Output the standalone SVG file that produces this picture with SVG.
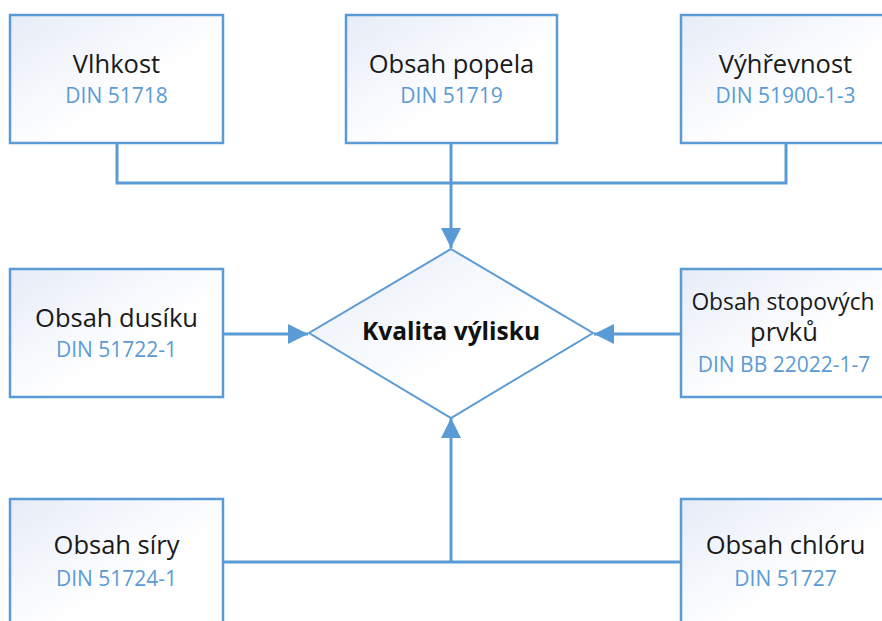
<svg xmlns="http://www.w3.org/2000/svg" width="882" height="621" viewBox="0 0 882 621">
<style>
.box{fill:url(#g);stroke:#5b9bd5;stroke-width:2.5}
.dia{fill:url(#g);stroke:#5b9bd5;stroke-width:2}
.t{font-family:"Open Sans","Liberation Sans",sans-serif;font-size:25.5px;fill:#1a1a1a;text-anchor:middle}
.d{font-family:"Open Sans","Liberation Sans",sans-serif;font-size:21px;fill:#5b9bd5;text-anchor:middle}
.b{font-family:"Open Sans","Liberation Sans",sans-serif;font-size:24.5px;font-weight:bold;fill:#111;text-anchor:middle}
.c{fill:none;stroke:#5b9bd5;stroke-width:3}
</style>
<defs>
<linearGradient id="g" x1="0" y1="0" x2="1" y2="1">
<stop offset="0" stop-color="#e6ecf7"/>
<stop offset="0.6" stop-color="#ffffff"/>
<stop offset="1" stop-color="#ffffff"/>
</linearGradient>
<marker id="a" markerUnits="userSpaceOnUse" markerWidth="20" markerHeight="20" refX="20" refY="10" orient="auto">
<path d="M0,0 L20,10 L0,20 z" fill="#5b9bd5"/>
</marker>
</defs>
<rect width="882" height="621" fill="#ffffff"/>
<g id="connectors">
<path class="c" d="M117,143 V183 H786 V143"/>
<path class="c" d="M451,143 V248" marker-end="url(#a)"/>
<path class="c" d="M223,334 H308" marker-end="url(#a)"/>
<path class="c" d="M681,334 H594" marker-end="url(#a)"/>
<path class="c" d="M223,562 H681"/>
<path class="c" d="M451,562 V418" marker-end="url(#a)"/>
</g>
<g id="vlhkost">
<rect class="box" x="10" y="15" width="213" height="128"/>
<text class="t" x="116.5" y="73">Vlhkost</text>
<text class="d" x="116.5" y="103">DIN 51718</text>
</g>
<g id="popel">
<rect class="box" x="346" y="15" width="211" height="128"/>
<text class="t" x="451.5" y="73">Obsah popela</text>
<text class="d" x="451.5" y="103">DIN 51719</text>
</g>
<g id="vyhrevnost">
<rect class="box" x="681" y="15" width="213" height="128"/>
<text class="t" x="785.5" y="73">Výhřevnost</text>
<text class="d" x="785.5" y="103">DIN 51900-1-3</text>
</g>
<g id="dusik">
<rect class="box" x="10" y="269" width="213" height="128"/>
<text class="t" x="116.5" y="327">Obsah dusíku</text>
<text class="d" x="116.5" y="357">DIN 51722-1</text>
</g>
<g id="kvalita">
<polygon class="dia" points="451,249 593,333 451,418 309,333"/>
<text class="b" x="451" y="340">Kvalita výlisku</text>
</g>
<g id="stopove">
<rect class="box" x="681" y="269" width="213" height="128"/>
<text class="t" x="783" y="310" style="font-size:22.8px">Obsah stopových</text>
<text class="t" x="784" y="341">prvků</text>
<text class="d" x="784" y="372">DIN BB 22022-1-7</text>
</g>
<g id="sira">
<rect class="box" x="10" y="499" width="213" height="130"/>
<text class="t" x="116.5" y="554">Obsah síry</text>
<text class="d" x="116.5" y="586">DIN 51724-1</text>
</g>
<g id="chlor">
<rect class="box" x="681" y="499" width="213" height="130"/>
<text class="t" x="785.5" y="554">Obsah chlóru</text>
<text class="d" x="785.5" y="586">DIN 51727</text>
</g>
</svg>
